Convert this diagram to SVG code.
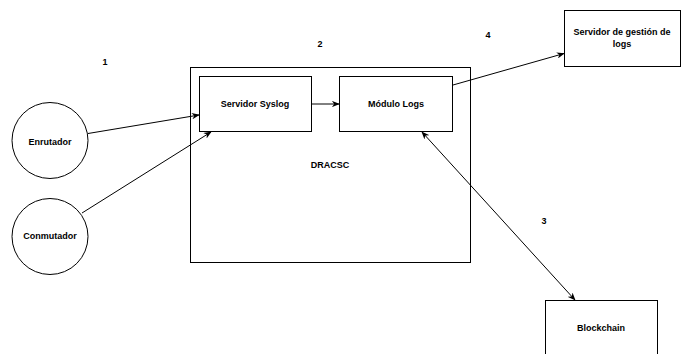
<svg xmlns="http://www.w3.org/2000/svg" width="683" height="354" viewBox="0 0 683 354">
  <style>
    .box { fill: #ffffff; stroke: #000000; stroke-width: 1; }
    .frame { fill: none; stroke: #000000; stroke-width: 1; }
    .lbl { font-family: "Liberation Sans", Arial, sans-serif; font-size: 9px; font-weight: bold; fill: #000000; text-anchor: middle; dominant-baseline: central; }
    .edge { fill: none; stroke: #000000; stroke-width: 1; }
  </style>
  <defs>
    <marker id="arrow" viewBox="0 0 10 8" refX="9" refY="4" markerWidth="8" markerHeight="6.4" markerUnits="userSpaceOnUse" orient="auto-start-reverse">
      <path d="M0,0 L10,4 L0,8 L3,4 Z" fill="#000000"/>
    </marker>
  </defs>

  <!-- DRACSC container -->
  <g id="dracsc">
    <rect class="frame" x="190.5" y="67.5" width="280" height="195"/>
    <text class="lbl" x="330" y="165">DRACSC</text>
  </g>

  <g id="servidor-syslog">
    <rect class="box" x="199.5" y="76.5" width="112" height="55"/>
    <text class="lbl" x="255" y="104">Servidor Syslog</text>
  </g>

  <g id="modulo-logs">
    <rect class="box" x="339.5" y="76.5" width="113" height="55"/>
    <text class="lbl" x="396" y="104">Módulo Logs</text>
  </g>

  <g id="enrutador">
    <circle class="box" cx="50" cy="140.5" r="38"/>
    <text class="lbl" x="50" y="142">Enrutador</text>
  </g>

  <g id="conmutador">
    <circle class="box" cx="50" cy="236.5" r="38"/>
    <text class="lbl" x="50" y="236">Conmutador</text>
  </g>

  <g id="servidor-gestion">
    <rect class="box" x="564.5" y="10.5" width="116" height="56"/>
    <text class="lbl" x="622" y="32">Servidor de gestión de</text>
    <text class="lbl" x="622" y="44">logs</text>
  </g>

  <g id="blockchain">
    <rect class="box" x="545.5" y="300.5" width="112" height="60"/>
    <text class="lbl" x="601" y="328">Blockchain</text>
  </g>

  <!-- step numbers -->
  <g id="labels">
    <text class="lbl" x="105" y="62">1</text>
    <text class="lbl" x="320" y="44">2</text>
    <text class="lbl" x="544" y="221">3</text>
    <text class="lbl" x="488" y="35">4</text>
  </g>

  <!-- connectors -->
  <g id="connectors">
    <line class="edge" x1="88" y1="133.5" x2="199" y2="115" marker-end="url(#arrow)"/>
    <line class="edge" x1="82" y1="213" x2="211" y2="132" marker-end="url(#arrow)"/>
    <line class="edge" x1="312" y1="104" x2="339" y2="104" marker-end="url(#arrow)"/>
    <line class="edge" x1="453" y1="85" x2="564" y2="53.5" marker-end="url(#arrow)"/>
    <line class="edge" x1="422" y1="132" x2="575" y2="300" marker-start="url(#arrow)" marker-end="url(#arrow)"/>
  </g>
</svg>
